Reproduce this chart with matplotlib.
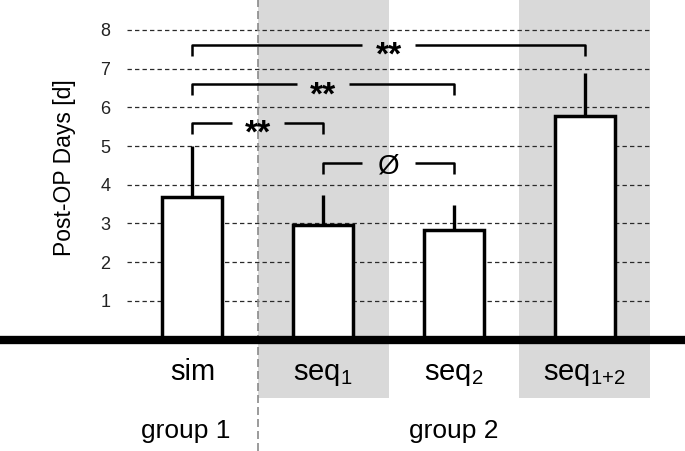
import matplotlib
matplotlib.use("Agg")
import matplotlib.pyplot as plt
from matplotlib.lines import Line2D
import numpy as np

plt.rcParams['font.family'] = ['Liberation Sans', 'DejaVu Sans']
plt.rcParams['mathtext.default'] = 'regular'

# ---- data ----
categories = ['sim', 'seq$_1$', 'seq$_2$', 'seq$_{1{+}2}$']
means = [3.69, 2.96, 2.82, 5.77]
err_upper = [1.31, 0.78, 0.66, 1.13]
shaded = [1, 3]
yticks = [1, 2, 3, 4, 5, 6, 7, 8]
groups = ['group 1', 'group 2']
group_pos = [-0.05, 2.0]
comparisons = [(0, 3, '**', 7.62), (0, 2, '**', 6.60), (0, 1, '**', 5.60), (1, 2, 'Ø', 4.56)]
ylabel = 'Post-OP Days [d]'

W, H = 685, 451
fig = plt.figure(figsize=(W / 100, H / 100), dpi=100)
ax_left, ax_right, ax_bottom_px, ax_top_px = 127, 650, 339.5, 0
ax = fig.add_axes([ax_left / W, (H - ax_bottom_px) / H,
                   (ax_right - ax_left) / W, (ax_bottom_px - ax_top_px) / H])
ymax = ax_bottom_px / ((ax_bottom_px - 30) / 8)
ax.set_xlim(-0.5, 3.5)
ax.set_ylim(0, ymax)
for s in ax.spines.values():
    s.set_visible(False)

x = np.arange(len(categories))

# shading (extends below axis)
shade_bottom = -1.51
for i in shaded:
    ax.axvspan(i - 0.5, i + 0.5, ymin=shade_bottom / ymax, ymax=1,
               color='#d9d9d9', lw=0, zorder=0, clip_on=False)

# grid
ax.set_yticks(yticks)
ax.yaxis.grid(True, color='#2a2a2a', lw=0.9, linestyle=(0, (3.5, 2.5)), zorder=1)
ax.set_axisbelow(True)
ax.tick_params(axis='y', length=0, pad=12, labelsize=13, labelcolor='#222222')

# divider
fig_bottom_axes = -(H - ax_bottom_px) / (ax_bottom_px - ax_top_px)
ax.axvline(0.5, ymin=fig_bottom_axes, ymax=1, color='#8a8a8a', lw=1.2,
           linestyle=(0, (4.8, 2.4)), zorder=2, clip_on=False)

# bars
ax.bar(x, means, width=0.46, color='white', edgecolor='black', lw=2.5, zorder=4)
ax.errorbar(x, means, yerr=[np.zeros(len(means)), err_upper], fmt='none',
            ecolor='black', elinewidth=2.4, capsize=0, zorder=3)

# thick baseline across whole figure
y0_fig = (H - ax_bottom_px) / H
fig.add_artist(Line2D([0, 1], [y0_fig, y0_fig], color='black', lw=6, zorder=10))

# significance brackets
drop = 0.28
for a, b, txt, h in comparisons:
    mid = (a + b) / 2
    g = 0.2
    ax.plot([a, a, mid - g], [h - drop, h, h], color='black', lw=1.8, zorder=5,
            solid_capstyle='butt', clip_on=False)
    ax.plot([mid + g, b, b], [h, h, h - drop], color='black', lw=1.8, zorder=5,
            solid_capstyle='butt', clip_on=False)
    if txt == '**':
        ax.text(mid, h - 0.52, txt, ha='center', va='baseline', fontsize=24,
                fontweight='bold', zorder=6)
    else:
        ax.text(mid, h - 0.28, txt, ha='center', va='baseline', fontsize=20, zorder=6)

# category labels
ax.set_xticks(x, categories, va='baseline')
ax.tick_params(axis='x', length=0, pad=29.5, labelsize=21, labelcolor='black')

# group labels
for gx, gl in zip(group_pos, groups):
    ax.text(gx, -2.55, gl, ha='center', va='baseline', fontsize=19, clip_on=False)

ax.set_ylabel(ylabel, fontsize=16.5, va='center')
ax.yaxis.set_label_coords((65 - ax_left) / (ax_right - ax_left),
                          (ax_bottom_px - 167.5) / (ax_bottom_px - ax_top_px))

fig.savefig('out.png', dpi=100)
